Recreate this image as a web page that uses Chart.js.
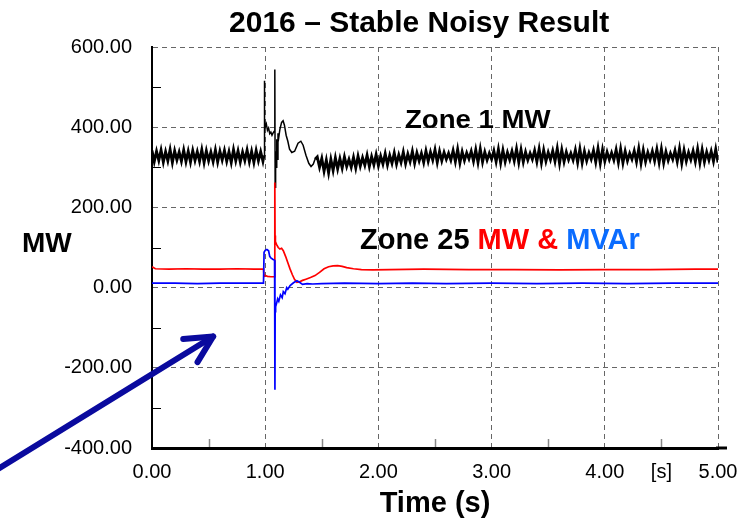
<!DOCTYPE html>
<html>
<head>
<meta charset="utf-8">
<script src="https://cdn.jsdelivr.net/npm/chart.js@4.4.0/dist/chart.umd.min.js"></script>
<style>
  html, body { margin: 0; padding: 0; background: #fff; }
  #chart { display: block; }
</style>
</head>
<body>
<canvas id="chart" width="743" height="521"></canvas>
<script>
// Zone 1 MW, noisy steady part before the fault (0.00 .. 0.98 s, every 0.02 s)
const zone1PreValues = [342,314,340,317,343,313,339,316,344,312,341,318,338,315,343,314,340,313,342,317,
  339,315,344,312,341,316,338,314,343,313,340,318,342,315,339,312,344,316,341,313,338,317,343,314,340,312,342,316,339,315];

// Zone 1 MW around the fault
const zone1FaultTimes = [0.99,0.992,0.996,1.0,1.01,1.02,1.03,1.04,1.05,1.06,1.07,1.08,1.085,1.088,1.092,1.097,1.102,1.107,1.113,1.12,
  1.13,1.145,1.158,1.17,1.185,1.2,1.215,1.235,1.26,1.29,1.315,1.335,1.36,1.385,1.405,1.425,1.44];
const zone1FaultValues = [330,516,420,400,408,392,398,384,388,380,386,390,544,250,340,300,370,320,385,375,
  395,412,416,405,380,365,345,337,340,360,365,355,330,310,302,308,320];

// Zone 1 MW, noisy part after the fault (1.46 .. 5.00 s, every 0.02 s)
const zone1PostValues = [
  326,300,322,290,318,286,320,292,324,296,
  322,298,326,302,320,300,325,298,328,303,
  324,305,330,302,327,306,332,304,328,308,
  334,306,330,310,336,308,331,312,338,309,
  333,314,340,310,336,316,335,312,341,315,
  338,318,344,312,340,316,337,320,335,318,
  342,314,345,311,339,317,336,321,340,315,
  344,312,346,313,338,318,335,320,341,314,
  345,311,343,314,337,319,340,316,346,312,
  344,313,338,318,335,320,342,314,346,311,
  343,315,337,319,341,315,347,310,344,314,
  338,319,335,318,343,312,346,311,340,316,
  336,320,342,313,347,310,344,315,338,319,
  336,318,344,312,346,311,340,316,335,320,
  341,314,347,310,343,314,337,319,340,316,
  345,312,346,311,339,317,335,320,342,314,
  347,310,343,315,337,319,341,314,346,311,
  344,313,338,318,340,315,345,312];

// Zone 25 MW (red)
const zone25MwTimes = [0,0.03,0.15,0.3,0.45,0.6,0.75,0.9,0.985,0.99,1.0,1.02,1.05,1.08,
  1.085,1.087,1.09,1.1,1.115,1.13,1.145,1.16,1.18,1.2,1.22,1.24,1.26,1.28,1.3,1.33,1.36,1.4,1.44,1.48,
  1.52,1.56,1.6,1.64,1.68,1.72,1.78,1.85,1.95,2.1,2.4,2.8,3.2,3.6,4.0,4.4,4.8,5.0];
const zone25MwValues = [52,47,46,47,46,46,47,46,46,28,30,28,27,27,
  262,130,115,108,100,96,98,92,78,62,46,32,20,13,14,18,21,25,30,38,
  47,52,54,55,53,50,47,45,44,45,46,45,45,44,45,45,46,46];

// Zone 25 MVAr (blue)
const zone25MvarTimes = [0,0.2,0.4,0.6,0.8,0.985,0.99,1.0,1.015,1.03,1.04,1.05,1.07,1.083,
  1.086,1.088,1.092,1.1,1.11,1.12,1.135,1.15,1.16,1.175,1.19,1.2,1.22,1.25,1.28,1.3,1.33,1.37,1.42,1.5,
  1.7,2.0,2.3,2.6,3.0,3.4,3.8,4.2,4.6,5.0];
const zone25MvarValues = [11,11,10,11,11,11,88,93,95,92,78,74,70,68,
  -255,-60,-48,-40,-28,-34,-18,-25,-10,-15,0,-4,5,12,17,14,8,10,9,10,
  11,10,11,10,11,10,11,10,11,11];

const timeTicks = [0, 1, 2, 3, 4, 5];
const minorTimeTicks = [0.5, 1.5, 2.5, 3.5, 4.5];
const mwTicks = [-400, -200, 0, 200, 400, 600];
const minorMwTicks = [-300, -100, 100, 300, 500];

const evenTimes = (start, step, n) => Array.from({length: n}, (_, i) => +(start + i * step).toFixed(3));
const toPoints = (times, values) => values.map((v, i) => ({x: times[i], y: v}));

const zone1Times = [...evenTimes(0, 0.02, zone1PreValues.length), ...zone1FaultTimes, ...evenTimes(1.46, 0.02, zone1PostValues.length)];
const zone1Values = [...zone1PreValues, ...zone1FaultValues, ...zone1PostValues];

const FONT = "Arial, 'Liberation Sans', sans-serif";

// titles, in-plot labels, minor ticks and the arrow
const decorations = {
  id: 'decorations',
  afterDraw(chart) {
    const {ctx, chartArea} = chart;
    const x = chart.scales.x, y = chart.scales.y;
    ctx.save();

    // minor ticks
    ctx.lineWidth = 1.5;
    ctx.strokeStyle = '#888';
    minorTimeTicks.forEach(t => {
      const px = Math.round(x.getPixelForValue(t)) + 0.5;
      ctx.beginPath();
      ctx.moveTo(px, chartArea.bottom - 1);
      ctx.lineTo(px, chartArea.bottom - 9);
      ctx.stroke();
    });
    ctx.lineWidth = 1;
    ctx.strokeStyle = '#000';
    minorMwTicks.forEach(v => {
      const py = Math.round(y.getPixelForValue(v)) + 0.5;
      ctx.beginPath();
      ctx.moveTo(chartArea.left, py);
      ctx.lineTo(chartArea.left + 9, py);
      ctx.stroke();
    });

    // extend the time axis line a little past 5.00 like the original
    ctx.lineWidth = 3;
    ctx.beginPath();
    ctx.moveTo(chartArea.right - 2, chartArea.bottom);
    ctx.lineTo(chartArea.right + 9, chartArea.bottom);
    ctx.stroke();

    // title
    ctx.fillStyle = '#000';
    ctx.textBaseline = 'alphabetic';
    ctx.textAlign = 'center';
    ctx.font = 'bold 30px ' + FONT;
    ctx.fillText('2016 \u2013 Stable Noisy Result', x.getPixelForValue(2.36), 32);

    // y label
    ctx.textAlign = 'left';
    ctx.font = 'bold 28px ' + FONT;
    ctx.fillText('MW', 22, y.getPixelForValue(90));

    // Zone 1 label (a bit wider than tall in the original)
    ctx.save();
    ctx.translate(x.getPixelForValue(2.235), y.getPixelForValue(399));
    ctx.scale(1.15, 1.05);
    ctx.font = 'bold 24px ' + FONT;
    ctx.fillText('Zone 1 MW', 0, 0);
    ctx.restore();

    // Zone 25 label in three colours
    ctx.font = 'bold 29px ' + FONT;
    let lx = x.getPixelForValue(1.837);
    const ly = y.getPixelForValue(97);
    [['Zone 25 ', '#000'], ['MW & ', '#ff0000'], ['MVAr', '#0a6cff']].forEach(([s, c]) => {
      ctx.fillStyle = c;
      ctx.fillText(s, lx, ly);
      lx += ctx.measureText(s).width;
    });

    // arrow
    const tx = x.getPixelForValue(0.54), ty = y.getPixelForValue(-122);
    const sx = x.getPixelForValue(-1.6), sy = y.getPixelForValue(-494);
    const ang = Math.atan2(sy - ty, sx - tx);
    const len = 30, spread = 27 * Math.PI / 180;
    ctx.strokeStyle = '#0a0a9e';
    ctx.lineWidth = 6;
    ctx.lineCap = 'round';
    ctx.lineJoin = 'round';
    ctx.beginPath();
    ctx.moveTo(sx, sy);
    ctx.lineTo(tx, ty);
    ctx.stroke();
    ctx.beginPath();
    ctx.moveTo(tx + len * Math.cos(ang - spread), ty + len * Math.sin(ang - spread));
    ctx.lineTo(tx, ty);
    ctx.lineTo(tx + len * Math.cos(ang + spread), ty + len * Math.sin(ang + spread));
    ctx.stroke();

    ctx.restore();
  }
};

// the steady noisy parts are drawn heavier so the zig-zag reads as a solid band
const noisyWidth = c => (c.p0.parsed.x < 0.985 || c.p0.parsed.x >= 1.44) ? 2.8 : 1.5;

const chart = new Chart(document.getElementById('chart'), {
  type: 'line',
  data: {
    datasets: [
      {label: 'Zone 25 MVAr', data: toPoints(zone25MvarTimes, zone25MvarValues), borderColor: '#0000ff', borderWidth: 1.7},
      {label: 'Zone 25 MW', data: toPoints(zone25MwTimes, zone25MwValues), borderColor: '#ff0000', borderWidth: 1.7},
      {label: 'Zone 1 MW', data: toPoints(zone1Times, zone1Values), borderColor: '#000000', borderWidth: 1.5,
        segment: {borderWidth: noisyWidth}}
    ]
  },
  options: {
    responsive: false,
    animation: false,
    layout: {padding: {top: 47, right: 25, left: 0, bottom: 0}},
    elements: {point: {radius: 0}, line: {tension: 0}},
    plugins: {legend: {display: false}, title: {display: false}, tooltip: {enabled: false}},
    scales: {
      x: {
        type: 'linear', min: 0, max: 5,
        ticks: {
          stepSize: 0.5, autoSkip: false, maxRotation: 0, padding: 12, color: '#000',
          font: {family: FONT, size: 20},
          callback: v => timeTicks.includes(v) ? v.toFixed(2) : (v === 4.5 ? '[s]' : '')
        },
        grid: {
          drawTicks: false, lineWidth: 1,
          color: c => (c.tick && timeTicks.includes(c.tick.value)) ? '#666' : 'rgba(0,0,0,0)'
        },
        border: {display: true, color: '#000', width: 3, dash: [5, 4]},
        title: {display: true, text: 'Time (s)', color: '#000', font: {family: FONT, size: 29, weight: 'bold'}, padding: {top: 0, bottom: 0}},
        afterFit: s => { s.height = 73; s.paddingLeft = 0; s.paddingRight = 0; }
      },
      y: {
        min: -400, max: 600,
        ticks: {
          stepSize: 100, autoSkip: false, padding: 20, color: '#000',
          font: {family: FONT, size: 20},
          callback: v => mwTicks.includes(v) ? v.toFixed(2) : ''
        },
        grid: {
          drawTicks: false, lineWidth: 1,
          color: c => (c.tick && mwTicks.includes(c.tick.value)) ? '#666' : 'rgba(0,0,0,0)'
        },
        border: {display: true, color: '#000', width: 2, dash: [5, 4]},
        afterFit: s => { s.width = 152; s.paddingTop = 0; s.paddingBottom = 0; }
      }
    }
  },
  plugins: [decorations]
});
</script>
</body>
</html>
